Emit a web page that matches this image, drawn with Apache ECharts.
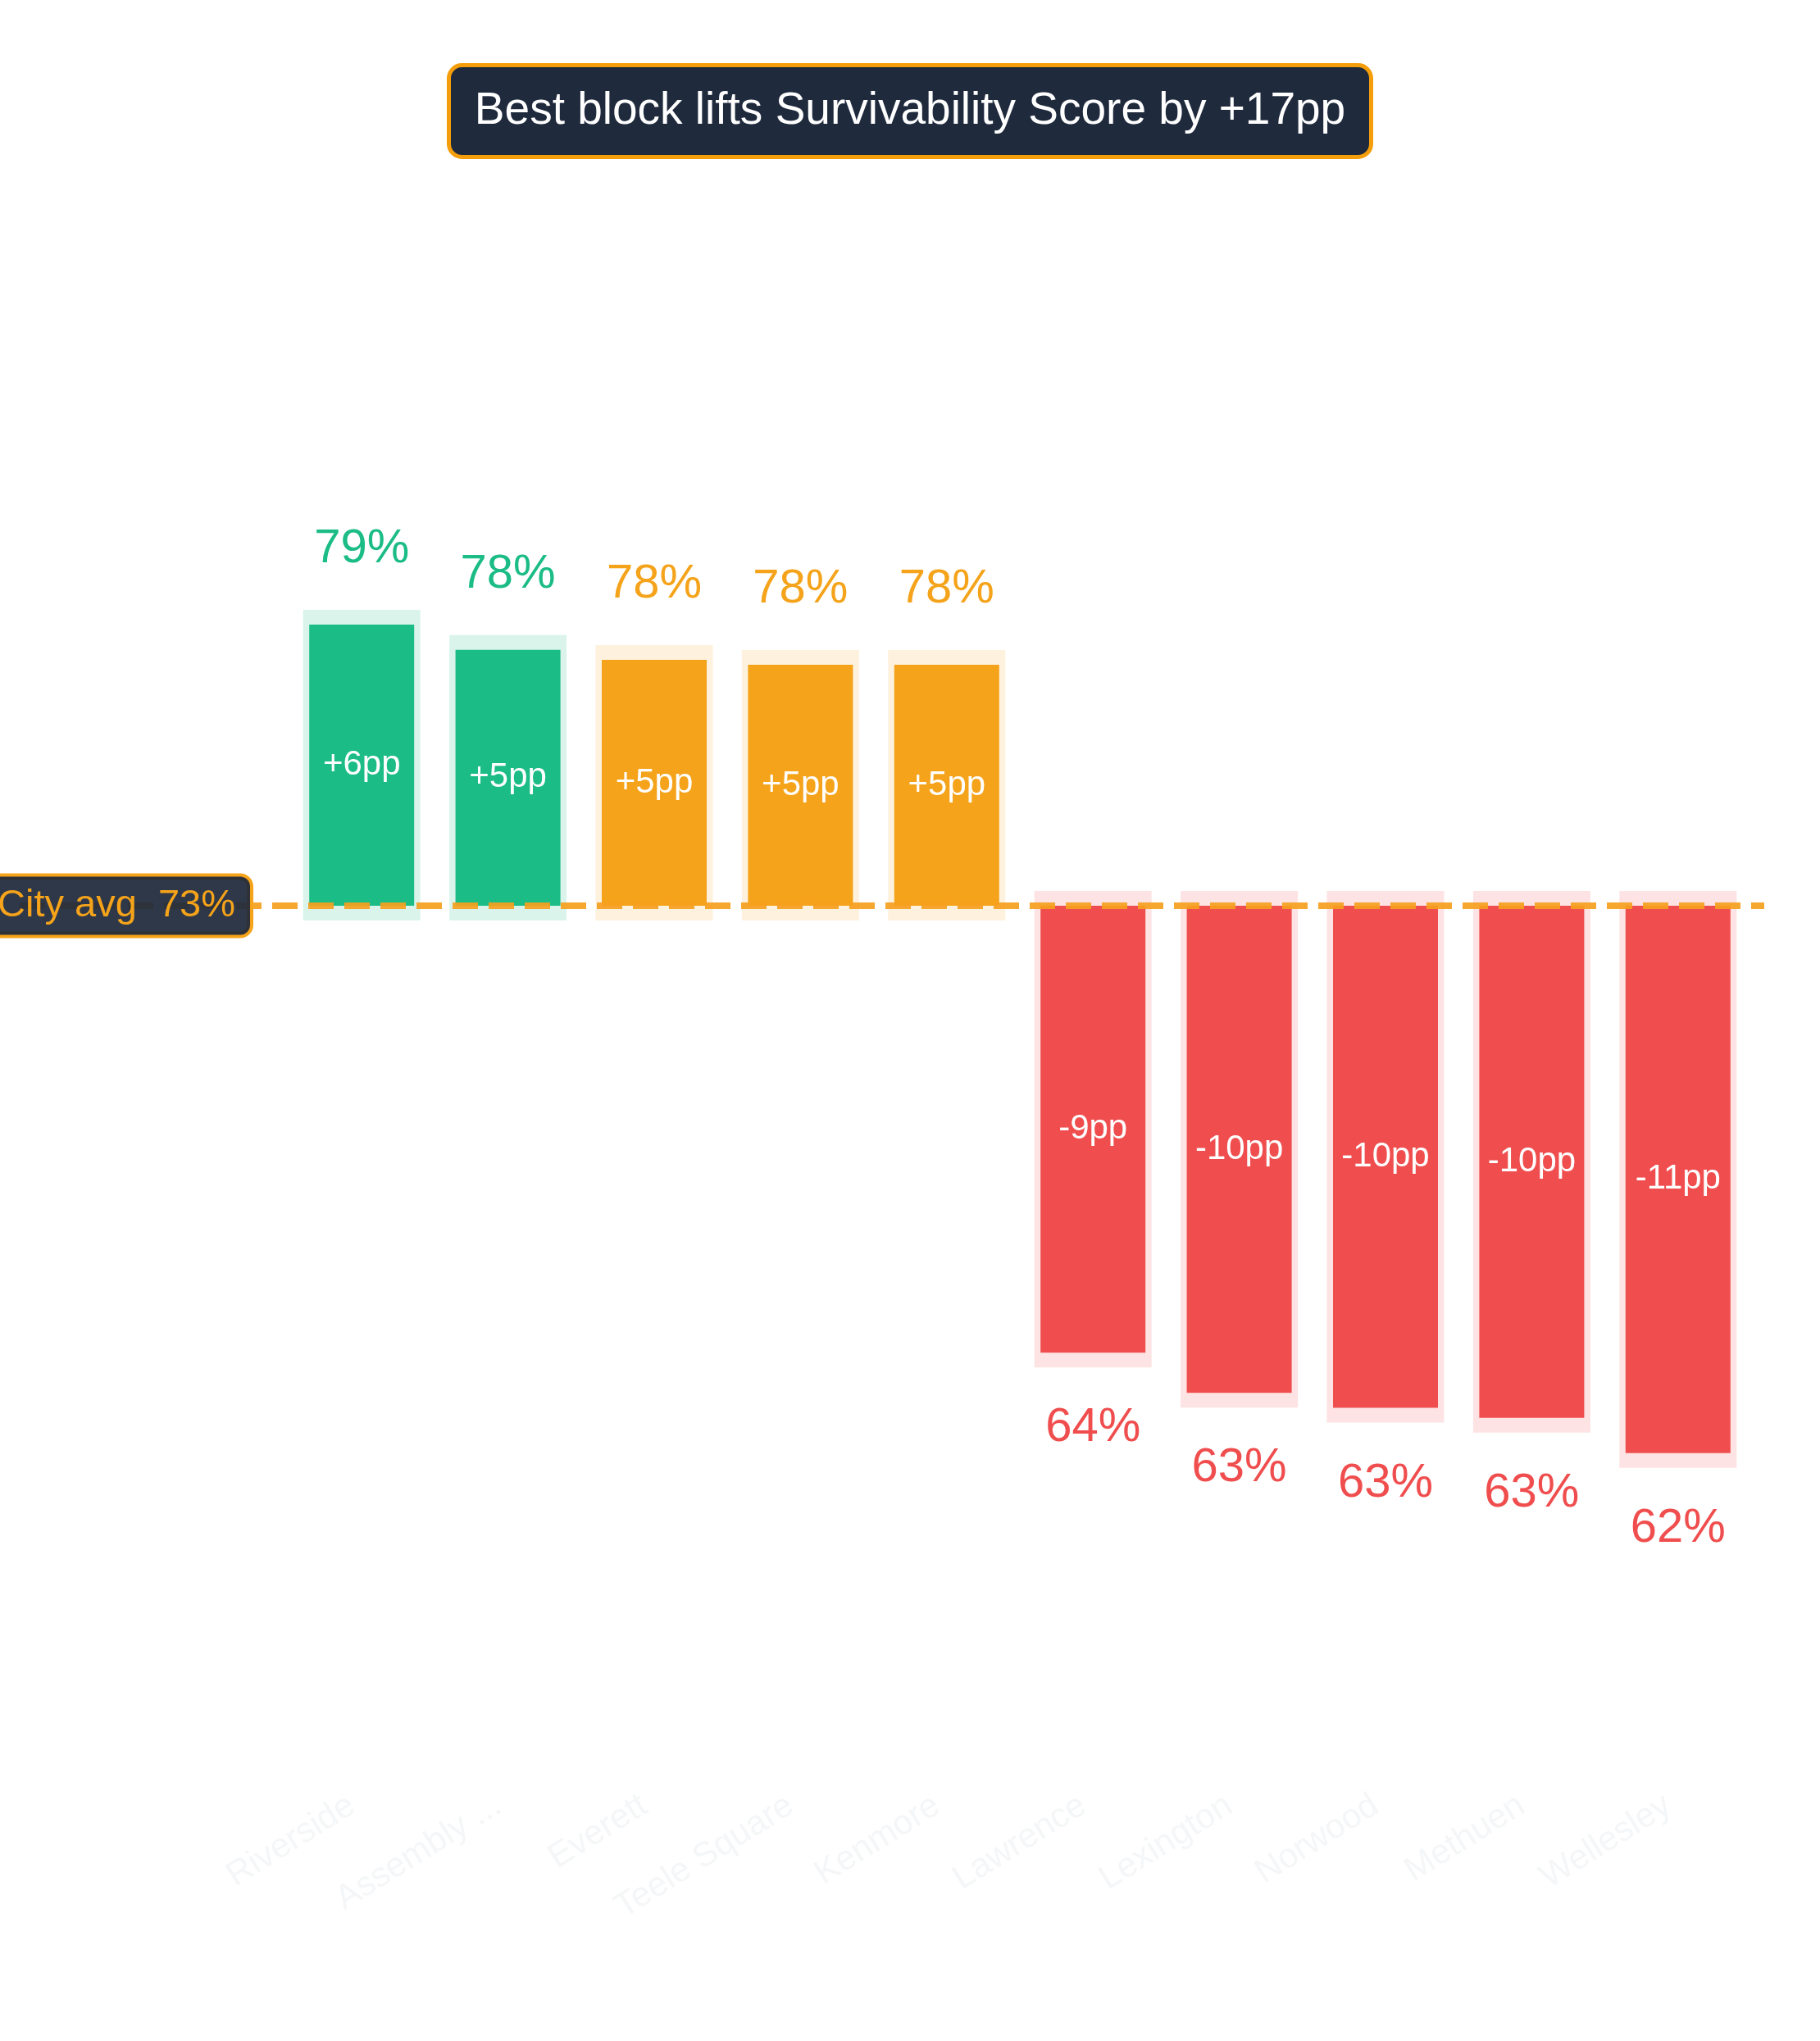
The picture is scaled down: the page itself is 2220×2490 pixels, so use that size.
<!DOCTYPE html>
<html>
<head>
<meta charset="utf-8">
<script src="https://cdn.jsdelivr.net/npm/echarts@6/dist/echarts.min.js"></script>
<style>
  html, body { margin: 0; padding: 0; background: #ffffff; }
  #chart { width: 2220px; height: 2490px; }
</style>
</head>
<body>
<div id="chart"></div>
<script>
// 数据
var blocks = ['Riverside', 'Assembly Square', 'Everett', 'Teele Square', 'Kenmore',
  'Lawrence', 'Lexington', 'Norwood', 'Methuen', 'Wellesley'];
var scores = [78.7, 78.2, 78.0, 77.9, 77.9, 64.2, 63.4, 63.1, 62.9, 62.2];
var cityAvg = 73.1;
var titleText = 'Best block lifts Survivability Score by +17pp';

var FONT = '"Liberation Sans", Arial, Helvetica, sans-serif';
var GREEN = '#1BBC86', ORANGE = '#F5A31A', RED = '#F04E4E';

// 与城市平均值的差
var deltas = scores.map(function (v) { return Math.round((v - cityAvg) * 10) / 10; });

function barColor(d) {
  if (d >= 5) return GREEN;
  if (d > 0) return ORANGE;
  return RED;
}
function fadeColor(d) {
  if (d >= 5) return 'rgba(27,188,134,0.16)';
  if (d > 0) return 'rgba(245,163,26,0.15)';
  return 'rgba(240,78,78,0.16)';
}

(function () {
  var myChart = echarts.init(document.getElementById('chart'));

  var option = {
    backgroundColor: '#ffffff',
    animation: false,
    title: {
      text: titleText,
      left: 'center',
      top: 79,
      padding: [28, 32],
      backgroundColor: '#1F2A3D',
      borderColor: '#F59E0B',
      borderWidth: 5,
      borderRadius: 16,
      textStyle: {
        color: '#ffffff',
        fontSize: 55,
        fontWeight: 'normal',
        fontFamily: FONT,
        lineHeight: 57
      }
    },
    grid: {
      left: 352,
      right: 84,
      top: 615,
      bottom: 343.75
    },
    xAxis: {
      type: 'category',
      data: blocks,
      axisLine: { show: false },
      axisTick: { show: false },
      axisLabel: {
        interval: 0,
        rotate: 32,
        margin: 46,
        color: '#f4f6f8',
        fontSize: 42,
        fontFamily: FONT,
        padding: [0, 14, 0, 0],
        width: 42 * 6.05,
        overflow: 'truncate'
      }
    },
    yAxis: {
      type: 'value',
      min: -17,
      max: 8,
      show: false,
      splitLine: { show: false }
    },
    series: [
      {
        // 背景淡色框，比柱子上下各多出一截
        name: 'halo',
        type: 'custom',
        silent: true,
        z: 1,
        encode: { x: 0, y: 1 },
        data: deltas.map(function (d, i) { return [i, d]; }),
        renderItem: function (params, api) {
          var d = api.value(1);
          var p0 = api.coord([api.value(0), 0]);
          var p1 = api.coord([api.value(0), d]);
          var top = Math.min(p0[1], p1[1]) - 18;
          var bottom = Math.max(p0[1], p1[1]) + 18;
          return {
            type: 'rect',
            shape: { x: p0[0] - 71.5, y: top, width: 143, height: bottom - top },
            style: { fill: fadeColor(d) }
          };
        }
      },
      {
        name: 'delta',
        type: 'bar',
        barWidth: 128,
        barGap: '-100%',
        z: 2,
        data: deltas.map(function (d) {
          return { value: d, itemStyle: { color: barColor(d) } };
        }),
        label: {
          show: true,
          position: 'inside',
          color: '#ffffff',
          fontSize: 42,
          fontFamily: FONT,
          formatter: function (p) {
            var n = Math.round(p.value);
            return (n > 0 ? '+' : '') + n + 'pp';
          }
        }
      },
      {
        name: 'score',
        type: 'bar',
        barWidth: 128,
        barGap: '-100%',
        z: 3,
        silent: true,
        data: deltas.map(function (d, i) {
          return {
            value: d,
            itemStyle: { color: 'rgba(0,0,0,0)' },
            label: {
              position: d >= 0 ? 'top' : 'bottom',
              color: barColor(d)
            }
          };
        }),
        label: {
          show: true,
          distance: 63,
          fontSize: 58,
          fontFamily: FONT,
          formatter: function (p) {
            return Math.round(scores[p.dataIndex]) + '%';
          }
        }
      }
    ]
  };

  myChart.setOption(option);

  // 城市平均线
  var avgY = myChart.convertToPixel({ yAxisIndex: 0 }, 0);
  myChart.setOption({
    graphic: [
      {
        type: 'line',
        z: 100,
        shape: { x1: 24, y1: avgY, x2: 2152, y2: avgY },
        style: { stroke: 'rgba(245,160,30,0.92)', lineWidth: 8, lineDash: [31, 13] },
        silent: true
      },
      {
        type: 'text',
        z: 101,
        x: 305,
        y: avgY,
        style: {
          text: 'City avg  ' + Math.round(cityAvg) + '%',
          fill: '#F5A31A',
          font: '47px ' + FONT,
          align: 'right',
          verticalAlign: 'middle',
          backgroundColor: 'rgba(30,41,59,0.93)',
          borderColor: '#F5A31A',
          borderWidth: 4,
          borderRadius: 12,
          padding: [13, 18, 11, 22]
        }
      }
    ]
  });

  window.addEventListener('resize', function () {
    myChart.resize();
  });
})();
</script>
</body>
</html>
